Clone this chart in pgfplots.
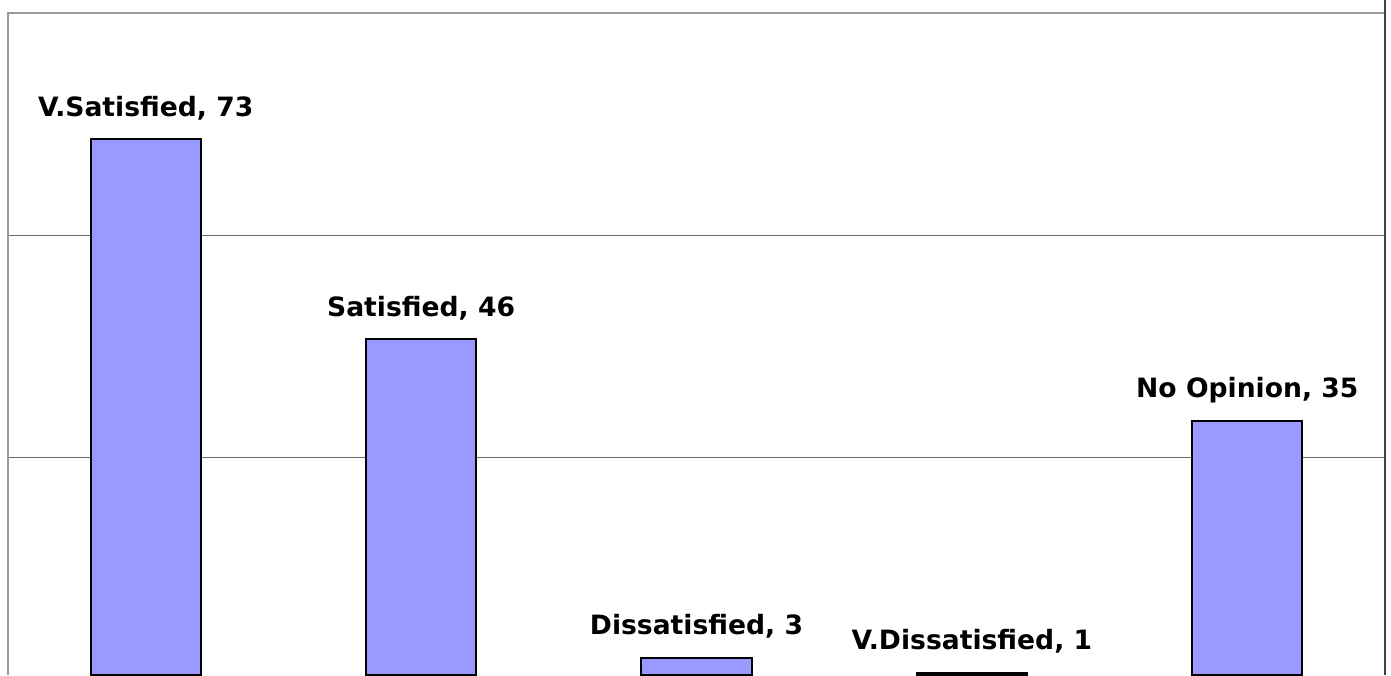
\documentclass[border=0pt]{standalone}
\usepackage{pgfplots}
\pgfplotsset{compat=1.18}
\usepackage{pgfplotstable}
\usepackage{fontspec}
\setmainfont{DejaVu Sans}
\definecolor{barblue}{HTML}{9999FF}
\pgfplotstableread[col sep=semicolon,row sep=\\]{
x;y;lab\\
0;73;V.Satisfied, 73\\
1;46;Satisfied, 46\\
2;3;Dissatisfied, 3\\
3;1;V.Dissatisfied, 1\\
4;35;No Opinion, 35\\
}\datatable
\begin{document}
\begin{tikzpicture}
\path[use as bounding box] (0,0) rectangle (695.5pt,337.5pt);
\begin{axis}[
  name=ax,
  at={(4pt,0pt)}, anchor=south west,
  scale only axis, width=688.5pt, height=331pt,
  xmin=-0.5, xmax=4.5, ymin=0.7, ymax=90,
  ytick={30,60}, yticklabels={}, xtick=\empty,
  major tick length=0pt,
  ymajorgrids, grid style={draw=gray!85!black, line width=0.5pt},
  axis line style={draw=none},
  ybar, bar width=0.4,
  point meta=explicit symbolic,
  nodes near coords,
  nodes near coords style={anchor=base, inner sep=0pt, yshift=11.5pt, font=\fontsize{13.3pt}{15pt}\selectfont\bfseries, text=black},
]
\addplot[fill=barblue, draw=black, line width=1pt] table[x=x, y=y, meta=lab] {\datatable};
\end{axis}
\draw[draw=gray!80, line width=1.2pt] (ax.south west) -- (ax.north west) -- (ax.north east);
\draw[draw=black!75, line width=1pt] (ax.south east) -- ([yshift=6.5pt]ax.north east);
\end{tikzpicture}
\end{document}
